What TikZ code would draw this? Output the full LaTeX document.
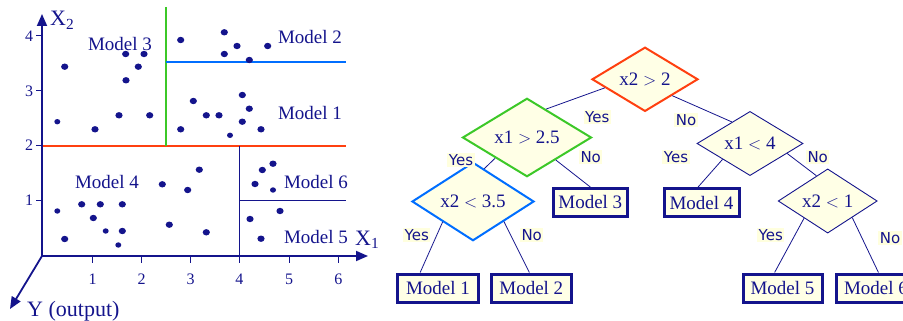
\documentclass[tikz,border=0pt]{standalone}
\usepackage{fontspec}
\setmainfont{Liberation Serif}
\newfontfamily\ynfont{DejaVu Sans}
\usetikzlibrary{shapes.geometric,arrows.meta}
\definecolor{navy}{RGB}{20,20,140}
\definecolor{cream}{RGB}{255,255,230}
\definecolor{lbl}{RGB}{255,255,222}
\definecolor{cutred}{RGB}{255,64,16}
\definecolor{cutgreen}{RGB}{60,200,40}
\definecolor{cutblue}{RGB}{0,110,255}
\begin{document}
\begin{tikzpicture}[x=1pt,y=-1pt,
  test/.style={diamond, fill=cream, draw=navy, line width=0.9pt, inner sep=0pt, text=navy,
    font=\fontsize{19}{21}\selectfont},
  leaf/.style={rectangle, fill=cream, draw=navy, line width=3pt, inner sep=0pt, text=navy,
    minimum height=28pt, font=\fontsize{19}{21}\selectfont},
  edge/.style={draw=navy, line width=0.8pt},
  yn/.style={fill=lbl, text=navy, inner sep=1.5pt, font=\ynfont\fontsize{15}{17}\selectfont},
  plotlbl/.style={text=navy, inner sep=0pt, font=\fontsize{19}{21}\selectfont},
  ticklbl/.style={text=navy, inner sep=0pt, font=\fontsize{16}{18}\selectfont},
  axis/.style={draw=navy, line width=1.8pt, -{Triangle[length=12pt,width=10pt]}},
  bigdot/.style={fill=navy},
]
\useasboundingbox (0,0) rectangle (903,321);

% ---------- scatter plot ----------
\coordinate (O) at (42,256);
\coordinate (xend) at (368,256);
\coordinate (yend) at (42,14);
\coordinate (zend) at (10,309);

% partition lines
\draw[cutred, line width=2.4pt] (42,145.7) -- (346,145.7);
\draw[cutgreen, line width=2.4pt] (165.7,7) -- (165.7,145.7);
\draw[cutblue, line width=2pt] (165.7,62.3) -- (346,62.3);
\draw[navy, line width=1pt] (239.3,145.7) -- (239.3,256);
\draw[navy, line width=1pt] (239.3,200.7) -- (346,200.7);

% ticks
\foreach \t/\px in {1/92.7,2/141.7,3/190.7,4/239.3,5/289,6/338.3}{
  \draw[navy, line width=1pt] (\px,256) -- (\px,263);
  \node[ticklbl] at (\px,279) {\t};
}
\foreach \t/\py in {1/200.7,2/145.7,3/91,4/36}{
  \draw[navy, line width=1pt] (36,\py) -- (42,\py);
  \node[ticklbl] at (29,\py) {\t};
}

% axes
\draw[axis] (O) -- (xend);
\draw[axis] (O) -- (yend);
\draw[axis] (O) -- (zend);

\node[plotlbl, anchor=base west, font=\fontsize{22}{24}\selectfont] (X2) at (50,26) {X\textsubscript{2}};
\node[plotlbl, anchor=base west, font=\fontsize{22}{24}\selectfont] (X1) at (355,245) {X\textsubscript{1}};
\node[plotlbl, anchor=base west, font=\fontsize{22}{24}\selectfont] (Yout) at (27,316) {Y (output)};

% dots
\foreach \px/\py in {64.7/66.7, 95/129.3, 119/115.3, 125.7/54, 144/54, 138.3/66.7, 126/80.3,
  149.7/115.3, 180.7/40, 224.3/32.3, 224.3/54, 237/46, 267.7/46, 193.3/101, 180.7/129.3,
  206.3/115.3, 219/115.3, 242.3/95, 249.3/108.7, 242.3/121.7, 261/129.3, 249.3/60,
  64.7/239, 81.7/204.3, 100.3/204.3, 122.3/204.3, 122.3/231, 162.3/184.3, 169.3/224.7,
  187.7/190, 199.3/169.7, 206.3/232.3, 255/184, 262.3/170, 273/163.7, 280/211, 250/219,
  261/238.7, 93.3/218}{
  \fill[bigdot] (\px,\py) ellipse [x radius=3.6pt, y radius=3.2pt];
}
\foreach \px/\py in {57.3/121.7, 57.3/211, 105.7/231, 118.3/245, 230/135.3, 273/190}{
  \fill[bigdot] (\px,\py) ellipse [x radius=3pt, y radius=2.7pt];
}

% region labels
\node[plotlbl] (L3) at (120,44) {Model 3};
\node[plotlbl] (L2) at (310,37) {Model 2};
\node[plotlbl] (L1) at (310,113) {Model 1};
\node[plotlbl] (L4) at (107,182) {Model 4};
\node[plotlbl] (L6) at (316,182) {Model 6};
\node[plotlbl] (L5) at (316,237) {Model 5};

% ---------- decision tree ----------
\node[test, draw=cutred, line width=2pt, minimum width=106pt, minimum height=55pt] (r) at (645,79.3) {x2 $>$ 2};
\node[test, draw=cutgreen, line width=2pt, minimum width=129pt, minimum height=55pt] (g) at (527,137.5) {x1 $>$ 2.5};
\node[test, draw=cutblue, line width=2pt, minimum width=122pt, minimum height=56pt] (b) at (473,201.5) {x2 $<$ 3.5};
\node[test, minimum width=106pt, minimum height=53pt] (d1) at (750,143.5) {x1 $<$ 4};
\node[test, minimum width=99pt, minimum height=54pt] (d2) at (827.7,201) {x2 $<$ 1};

\node[leaf, minimum width=81pt] (m1) at (438,288) {Model 1};
\node[leaf, minimum width=80pt] (m2) at (531.3,288) {Model 2};
\node[leaf, minimum width=74pt] (m3) at (590.3,202.5) {Model 3};
\node[leaf, minimum width=75pt] (m4) at (701.5,202.7) {Model 4};
\node[leaf, minimum width=79pt] (m5) at (782.5,288) {Model 5};
\node[leaf, minimum width=79pt] (m6) at (876,288) {Model 6};

\draw[edge] (r.192.7) -- (g.56.1);
\draw[edge] (r.329.5) -- (d1.130.6);
\draw[edge] (g.213.7) -- (b.71.8);
\draw[edge] (g.322.8) -- (m3.north);
\draw[edge] (b.214.8) -- (m1.139.3);
\draw[edge] (b.327.5) -- (m2.97.4);
\draw[edge] (d1.210.6) -- (m4.103.9);
\draw[edge] (d1.345.5) -- (d2.114.4);
\draw[edge] (d2.216.5) -- (m5.117.9);
\draw[edge] (d2.326) -- (m6.81.6);

\node[yn] (y1) at (597.3,116.7) {Yes};
\node[yn] (n1) at (686,120) {No};
\node[yn] (y2) at (461,160) {Yes};
\node[yn] (n2) at (590.7,156.7) {No};
\node[yn] (y3) at (416.7,235) {Yes};
\node[yn] (n3) at (531.7,235) {No};
\node[yn] (y4) at (676,157) {Yes};
\node[yn] (n4) at (817.7,157.3) {No};
\node[yn] (y5) at (770.7,235) {Yes};
\node[yn] (n5) at (890,237.7) {No};
\end{tikzpicture}
\end{document}
